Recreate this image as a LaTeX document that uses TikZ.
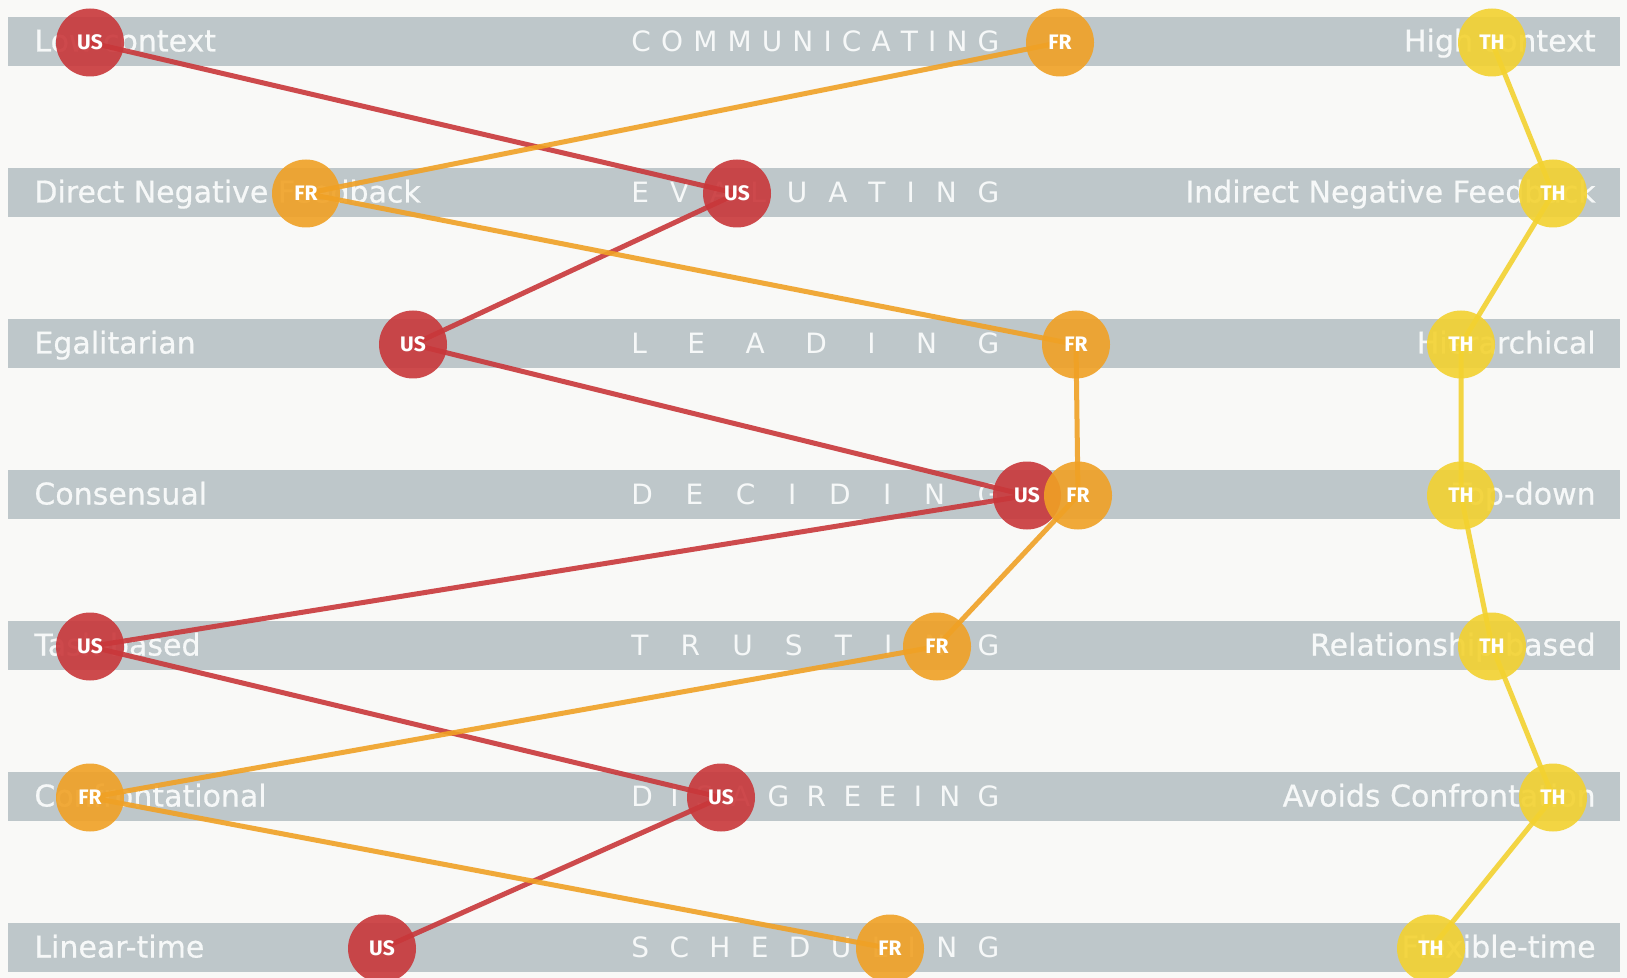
\documentclass[tikz,border=0pt]{standalone}
\usepackage{fontspec}
\setmainfont{DejaVu Sans}
\newfontfamily\polefont[FakeBold=0.6]{DejaVu Sans}
\newfontfamily\flagfont{Fira Sans}

\definecolor{paper}{HTML}{F9F9F7}
\definecolor{bargray}{HTML}{BEC7CA}
\definecolor{labelwhite}{HTML}{F6F8F8}
\definecolor{usred}{HTML}{C9373A}
\definecolor{frorange}{HTML}{F0A125}
\definecolor{thyellow}{HTML}{F3D230}

% spread the letters of a word over a fixed width
\def\spacedloop#1#2{#1\ifx\relax#2\else\hfill\expandafter\spacedloop\expandafter#2\fi}
\newcommand\spacedword[1]{\makebox[184pt][s]{\spacedloop#1\relax}}

\begin{document}
\begin{tikzpicture}[x=0.5pt, y=-0.5pt]
    \tikzset{
      pole/.style={text=labelwhite, inner sep=0pt, font=\polefont\fontsize{15}{18}\selectfont},
      topic/.style={text=labelwhite, inner sep=0pt, anchor=base west, font=\fontsize{14}{17}\selectfont},
      track/.style={draw=#1, line width=2.5pt, opacity=0.9, line join=round},
      flag/.style={circle, fill=#1, fill opacity=0.9, text opacity=1, minimum size=34pt,
        inner sep=0pt, text=white, font=\flagfont\bfseries\fontsize{10.5}{12}\selectfont}
    }
    \fill[paper] (0,0) rectangle (1627,978);
    \useasboundingbox (0,0) rectangle (1627,978);

    % the seven dimensions
    \foreach \lefttext/\topic/\righttext [count=\i] in {
        Low context/COMMUNICATING/High context,
        Direct Negative Feedback/EVALUATING/Indirect Negative Feedback,
        Egalitarian/LEADING/Hierarchical,
        Consensual/DECIDING/Top-down,
        Task-based/TRUSTING/Relationship-based,
        Confrontational/DISAGREEING/Avoids Confrontation,
        Linear-time/SCHEDULING/Flexible-time} {
      \pgfmathsetmacro\rowy{41.5+151*(\i-1)}
      \fill[bargray] (8,\rowy-24.5) rectangle (1620,\rowy+24.5);
      \node[pole, anchor=base west] (low\i) at (34,\rowy+10) {\lefttext};
      \node[topic] (topic\i) at (631,\rowy+10) {\expandafter\spacedword\expandafter{\topic}};
      \node[pole, anchor=base east] (high\i) at (1596,\rowy+10) {\righttext};
    }

    % US
    \foreach \x [count=\i] in {90,737,413,1027,90,721,382}
      \coordinate (us\i) at (\x,{42.5+151*(\i-1)});
    \draw[track=usred] (us1) \foreach \i in {2,...,7} {-- (us\i)};
    \foreach \i in {1,...,7}
      \node[flag=usred] (usdot\i) at (us\i) {US};

    % FR
    \foreach \x [count=\i] in {1060,306,1076,1078,937,90,890}
      \coordinate (fr\i) at (\x,{42.5+151*(\i-1)});
    \draw[track=frorange] (fr1) \foreach \i in {2,...,7} {-- (fr\i)};
    \foreach \i in {1,...,7}
      \node[flag=frorange] (frdot\i) at (fr\i) {FR};

    % TH
    \foreach \x [count=\i] in {1492,1553,1461,1461,1492,1553,1431}
      \coordinate (th\i) at (\x,{42.5+151*(\i-1)});
    \draw[track=thyellow] (th1) \foreach \i in {2,...,7} {-- (th\i)};
    \foreach \i in {1,...,7}
      \node[flag=thyellow] (thdot\i) at (th\i) {TH};
\end{tikzpicture}
\end{document}
